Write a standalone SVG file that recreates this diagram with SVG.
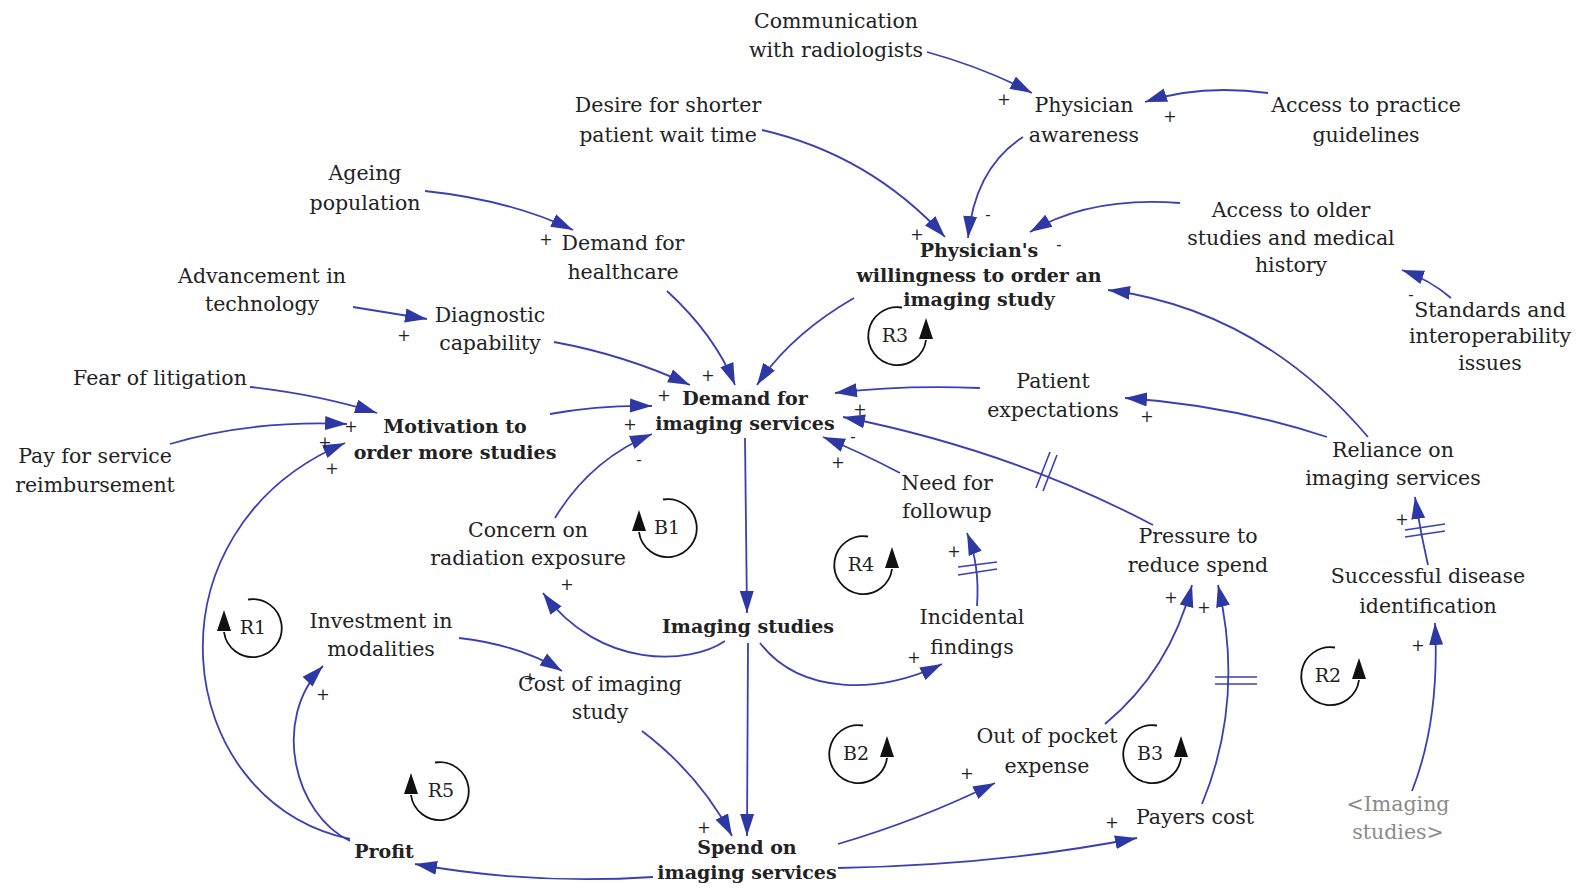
<svg xmlns="http://www.w3.org/2000/svg" width="1585" height="891" viewBox="0 0 1585 891">
<defs>
<style>
text{font-family:"DejaVu Serif","Liberation Serif",serif;fill:#222;}
.n{font-size:20.5px;text-anchor:middle;}
.b{font-size:19px;font-weight:bold;text-anchor:middle;}
.g{font-size:20.5px;text-anchor:middle;fill:#8a8a8a;}
.s{font-size:16px;text-anchor:middle;}
.lbl{font-size:19px;text-anchor:middle;}
.c{fill:none;stroke:#3a40b4;stroke-width:1.8;}
.h{fill:none;stroke:#3a40b4;stroke-width:1.6;}
.lp{fill:none;stroke:#111;stroke-width:1.8;}
.la{fill:#111;}
</style>
<marker id="ah" markerWidth="24" markerHeight="16" refX="22" refY="8" orient="auto" markerUnits="userSpaceOnUse">
<path d="M0,1 L22,8 L0,15 z" fill="#2e38a4"/>
</marker>
</defs>
<rect width="1585" height="891" fill="#fff"/>

<g id="connectors">
<path class="c" marker-end="url(#ah)" d="M927,52 Q985,68 1032,93"/>
<path class="c" marker-end="url(#ah)" d="M1268,93 Q1200,84 1145,102"/>
<path class="c" marker-end="url(#ah)" d="M1023,137 Q975,168 968,238"/>
<path class="c" marker-end="url(#ah)" d="M762,130 Q870,155 945,237"/>
<path class="c" marker-end="url(#ah)" d="M1180,203 Q1090,196 1030,232"/>
<path class="c" marker-end="url(#ah)" d="M1451,298 Q1430,280 1402,270"/>
<path class="c" marker-end="url(#ah)" d="M1368,437 Q1260,310 1108,290"/>
<path class="c" marker-end="url(#ah)" d="M1327,437 Q1230,405 1125,398"/>
<path class="c" marker-end="url(#ah)" d="M425,191 Q510,200 573,230"/>
<path class="c" marker-end="url(#ah)" d="M667,291 Q715,335 735,385"/>
<path class="c" marker-end="url(#ah)" d="M854,298 Q790,335 757,385"/>
<path class="c" marker-end="url(#ah)" d="M353,307 L427,319"/>
<path class="c" marker-end="url(#ah)" d="M554,342 Q625,355 690,385"/>
<path class="c" marker-end="url(#ah)" d="M250,387 Q320,395 377,413"/>
<path class="c" marker-end="url(#ah)" d="M170,444 Q250,420 347,424"/>
<path class="c" marker-end="url(#ah)" d="M550,414 Q600,405 652,406"/>
<path class="c" marker-end="url(#ah)" d="M555,518 Q590,460 652,434"/>
<path class="c" marker-end="url(#ah)" d="M980,388 Q900,385 835,393"/>
<path class="c" marker-end="url(#ah)" d="M1153,525 Q1010,450 843,417"/>
<path class="h" d="M1050,452 L1036,488 M1057,455 L1043,491"/>
<path class="c" marker-end="url(#ah)" d="M900,473 Q860,452 823,437"/>
<path class="c" marker-end="url(#ah)" d="M977,606 Q980,565 967,533"/>
<path class="h" d="M958,567 L997,562 M958,575 L997,569"/>
<path class="c" marker-end="url(#ah)" d="M745,438 L747,613"/>
<path class="c" marker-end="url(#ah)" d="M725,641 C690,665 600,670 543,593"/>
<path class="c" marker-end="url(#ah)" d="M760,643 C800,695 880,695 942,664"/>
<path class="c" marker-end="url(#ah)" d="M459,638 Q520,645 562,671"/>
<path class="c" marker-end="url(#ah)" d="M642,731 Q700,775 732,836"/>
<path class="c" marker-end="url(#ah)" d="M748,643 L747,836"/>
<path class="c" marker-end="url(#ah)" d="M838,844 Q920,820 995,783"/>
<path class="c" marker-end="url(#ah)" d="M838,868 Q1000,865 1137,838"/>
<path class="c" marker-end="url(#ah)" d="M653,877 Q530,885 415,864"/>
<path class="c" marker-end="url(#ah)" d="M350,841 C295,815 270,720 323,666"/>
<path class="c" marker-end="url(#ah)" d="M350,839 C170,800 140,530 345,443"/>
<path class="c" marker-end="url(#ah)" d="M1105,724 Q1170,670 1192,585"/>
<path class="c" marker-end="url(#ah)" d="M1202,804 Q1245,700 1218,585"/>
<path class="h" d="M1215,677 L1257,677 M1215,684 L1257,684"/>
<path class="c" marker-end="url(#ah)" d="M1428,565 Q1420,530 1415,497"/>
<path class="h" d="M1405,530 L1445,524 M1405,537 L1445,531"/>
<path class="c" marker-end="url(#ah)" d="M1412,791 Q1440,720 1435,623"/>
</g>

<g id="polarities">
<text class="s" x="1004" y="105">+</text>
<text class="s" x="1170" y="122">+</text>
<text class="s" x="546" y="245">+</text>
<text class="s" x="917" y="240">+</text>
<text class="s" x="404" y="341">+</text>
<text class="s" x="351" y="432">+</text>
<text class="s" x="325" y="448">+</text>
<text class="s" x="332" y="474">+</text>
<text class="s" x="708" y="381">+</text>
<text class="s" x="664" y="401">+</text>
<text class="s" x="630" y="430">+</text>
<text class="s" x="860" y="415">+</text>
<text class="s" x="838" y="468">+</text>
<text class="s" x="1147" y="422">+</text>
<text class="s" x="567" y="590">+</text>
<text class="s" x="954" y="557">+</text>
<text class="s" x="1402" y="525">+</text>
<text class="s" x="323" y="700">+</text>
<text class="s" x="530" y="684">+</text>
<text class="s" x="914" y="663">+</text>
<text class="s" x="704" y="833">+</text>
<text class="s" x="967" y="779">+</text>
<text class="s" x="1112" y="828">+</text>
<text class="s" x="1171" y="603">+</text>
<text class="s" x="1204" y="613">+</text>
<text class="s" x="1418" y="651">+</text>
<text class="s" x="988" y="220">-</text>
<text class="s" x="1059" y="250">-</text>
<text class="s" x="1411" y="300">-</text>
<text class="s" x="639" y="465">-</text>
<text class="s" x="853" y="442">-</text>
</g>

<g id="loops">
<g id="loop-R3"><path class="lp" d="M902,307.5 A29 29 0 1 0 926,340"/><path class="la" d="M926,318 L919,339 L933,339 z"/><text class="lbl" x="895" y="342">R3</text></g>
<g id="loop-B1"><path class="lp" d="M663,499.5 A29 29 0 1 1 639,532"/><path class="la" d="M639,510 L632,531 L646,531 z"/><text class="lbl" x="667" y="534">B1</text></g>
<g id="loop-R4"><path class="lp" d="M868,536.5 A29 29 0 1 0 892,569"/><path class="la" d="M892,547 L885,568 L899,568 z"/><text class="lbl" x="861" y="571">R4</text></g>
<g id="loop-R1"><path class="lp" d="M248,599.5 A29 29 0 1 1 224,632"/><path class="la" d="M224,610 L217,631 L231,631 z"/><text class="lbl" x="253" y="634">R1</text></g>
<g id="loop-R5"><path class="lp" d="M435,762.5 A29 29 0 1 1 411,795"/><path class="la" d="M411,773 L404,794 L418,794 z"/><text class="lbl" x="441" y="797">R5</text></g>
<g id="loop-B2"><path class="lp" d="M863,725.5 A29 29 0 1 0 887,758"/><path class="la" d="M887,736 L880,757 L894,757 z"/><text class="lbl" x="856" y="760">B2</text></g>
<g id="loop-B3"><path class="lp" d="M1157,725.5 A29 29 0 1 0 1181,758"/><path class="la" d="M1181,736 L1174,757 L1188,757 z"/><text class="lbl" x="1150" y="760">B3</text></g>
<g id="loop-R2"><path class="lp" d="M1335,647.5 A29 29 0 1 0 1359,680"/><path class="la" d="M1359,658 L1352,679 L1366,679 z"/><text class="lbl" x="1328" y="682">R2</text></g>
</g>

<g id="node-communication"><text class="n" x="836" y="28">Communication</text><text class="n" x="836" y="57">with radiologists</text></g>
<g id="node-physician-awareness"><text class="n" x="1084" y="112">Physician</text><text class="n" x="1084" y="142">awareness</text></g>
<g id="node-practice-guidelines"><text class="n" x="1366" y="112">Access to practice</text><text class="n" x="1366" y="142">guidelines</text></g>
<g id="node-desire"><text class="n" x="668" y="112">Desire for shorter</text><text class="n" x="668" y="142">patient wait time</text></g>
<g id="node-ageing"><text class="n" x="365" y="180">Ageing</text><text class="n" x="365" y="210">population</text></g>
<g id="node-demand-healthcare"><text class="n" x="623" y="250">Demand for</text><text class="n" x="623" y="279">healthcare</text></g>
<g id="node-willingness"><text class="b" x="979" y="257">Physician's</text><text class="b" x="979" y="282">willingness to order an</text><text class="b" x="979" y="306">imaging study</text></g>
<g id="node-older-studies"><text class="n" x="1291" y="217">Access to older</text><text class="n" x="1291" y="245">studies and medical</text><text class="n" x="1291" y="272">history</text></g>
<g id="node-advancement"><text class="n" x="262" y="283">Advancement in</text><text class="n" x="262" y="311">technology</text></g>
<g id="node-diagnostic"><text class="n" x="490" y="322">Diagnostic</text><text class="n" x="490" y="350">capability</text></g>
<g id="node-standards"><text class="n" x="1490" y="317">Standards and</text><text class="n" x="1490" y="343">interoperability</text><text class="n" x="1490" y="370">issues</text></g>
<g id="node-litigation"><text class="n" x="160" y="385">Fear of litigation</text></g>
<g id="node-pay"><text class="n" x="95" y="463">Pay for service</text><text class="n" x="95" y="492">reimbursement</text></g>
<g id="node-motivation"><text class="b" x="455" y="433">Motivation to</text><text class="b" x="455" y="459">order more studies</text></g>
<g id="node-demand-imaging"><text class="b" x="745" y="405">Demand for</text><text class="b" x="745" y="430">imaging services</text></g>
<g id="node-patient-expectations"><text class="n" x="1053" y="388">Patient</text><text class="n" x="1053" y="417">expectations</text></g>
<g id="node-reliance"><text class="n" x="1393" y="457">Reliance on</text><text class="n" x="1393" y="485">imaging services</text></g>
<g id="node-followup"><text class="n" x="947" y="490">Need for</text><text class="n" x="947" y="518">followup</text></g>
<g id="node-concern"><text class="n" x="528" y="537">Concern on</text><text class="n" x="528" y="565">radiation exposure</text></g>
<g id="node-pressure"><text class="n" x="1198" y="543">Pressure to</text><text class="n" x="1198" y="572">reduce spend</text></g>
<g id="node-successful"><text class="n" x="1428" y="583">Successful disease</text><text class="n" x="1428" y="613">identification</text></g>
<g id="node-investment"><text class="n" x="381" y="628">Investment in</text><text class="n" x="381" y="656">modalities</text></g>
<g id="node-imaging-studies"><text class="b" x="748" y="633">Imaging studies</text></g>
<g id="node-incidental"><text class="n" x="972" y="624">Incidental</text><text class="n" x="972" y="654">findings</text></g>
<g id="node-cost"><text class="n" x="600" y="691">Cost of imaging</text><text class="n" x="600" y="719">study</text></g>
<g id="node-out-of-pocket"><text class="n" x="1047" y="743">Out of pocket</text><text class="n" x="1047" y="773">expense</text></g>
<g id="node-payers"><text class="n" x="1195" y="824">Payers cost</text></g>
<g id="node-imaging-shadow"><text class="g" x="1398" y="811">&lt;Imaging</text><text class="g" x="1398" y="839">studies&gt;</text></g>
<g id="node-profit"><text class="b" x="384" y="858">Profit</text></g>
<g id="node-spend"><text class="b" x="747" y="854">Spend on</text><text class="b" x="747" y="879">imaging services</text></g>
</svg>
